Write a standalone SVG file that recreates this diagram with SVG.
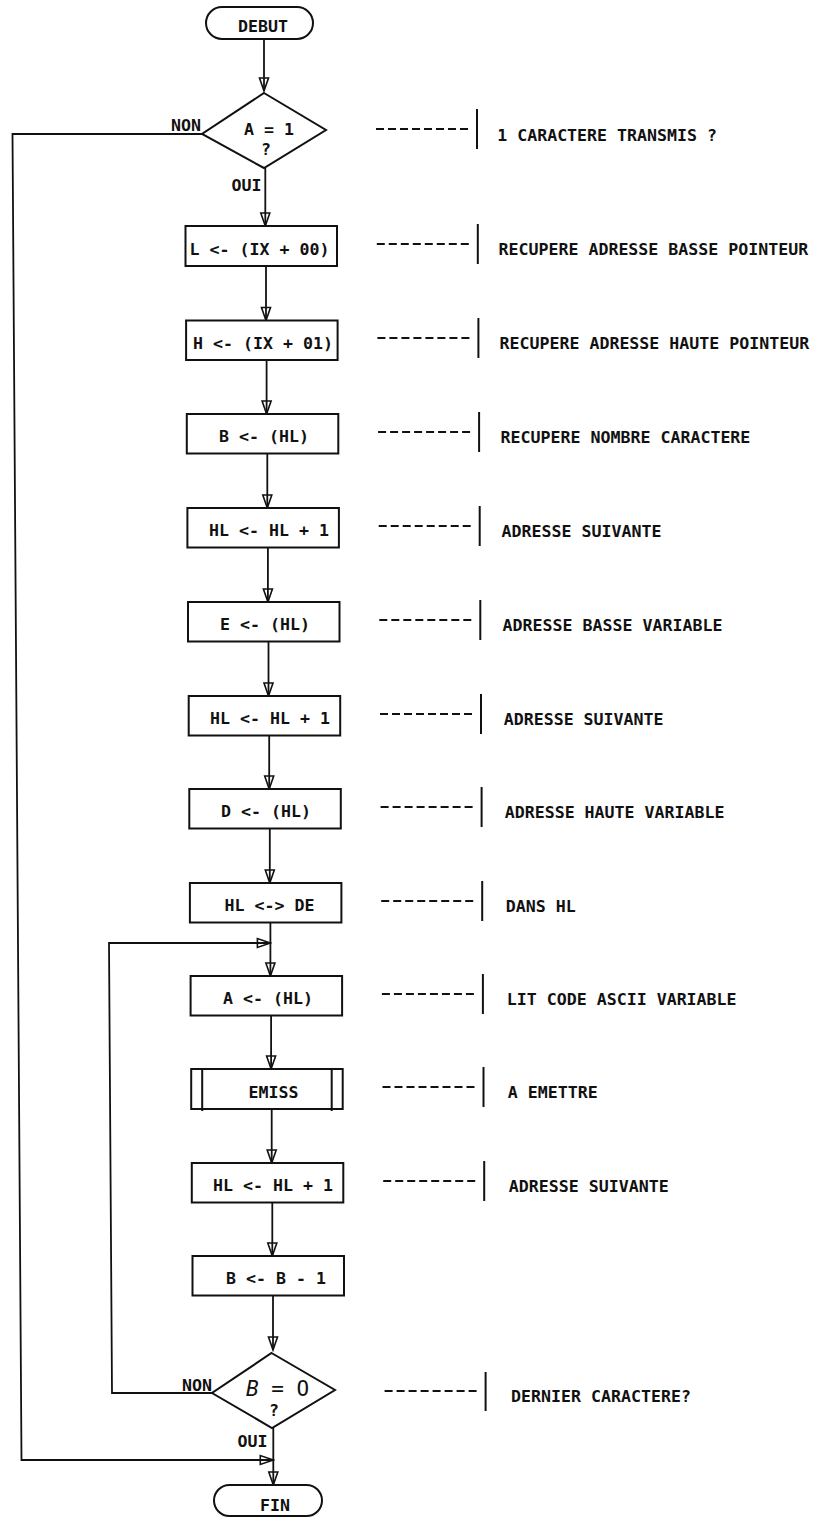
<svg xmlns="http://www.w3.org/2000/svg" width="820" height="1517" viewBox="0 0 820 1517">
<style>
.bg{fill:#fff}
.box{fill:#fff;stroke:#111;stroke-width:2}
.t{font-family:"DejaVu Sans Mono","Liberation Mono",monospace;font-size:16.6px;font-weight:bold;fill:#111}
.m{text-anchor:middle}
.e{text-anchor:end}
.c{fill:none;stroke:#111;stroke-width:1.8}
.dash{fill:none;stroke:#111;stroke-width:2;stroke-dasharray:8 4}
.bar{fill:none;stroke:#111;stroke-width:2}
</style>
<defs>
<marker id="ah" viewBox="-15 -7 17 14" refX="0" refY="0" markerWidth="17" markerHeight="14" markerUnits="userSpaceOnUse" orient="auto">
<path d="M0,0 L-13,-4.5 L-13,4.5 Z" fill="none" stroke="#111" stroke-width="1.6" stroke-linejoin="miter"/>
</marker>
</defs>
<rect class="bg" x="0" y="0" width="820" height="1517"/>

<g id="connectors">
<path class="c" d="M264,39 L264,91" marker-end="url(#ah)"/>
<path class="c" d="M265.3,168 L265.3,226" marker-end="url(#ah)"/>
<path class="c" d="M266,266 L266,320.5" marker-end="url(#ah)"/>
<path class="c" d="M266.6,360 L266.6,414" marker-end="url(#ah)"/>
<path class="c" d="M267.3,453.5 L267.3,508" marker-end="url(#ah)"/>
<path class="c" d="M267.9,547.5 L267.9,602" marker-end="url(#ah)"/>
<path class="c" d="M268.5,641.5 L268.5,696" marker-end="url(#ah)"/>
<path class="c" d="M269.2,735.5 L269.2,789" marker-end="url(#ah)"/>
<path class="c" d="M269.8,828.5 L269.8,883" marker-end="url(#ah)"/>
<path class="c" d="M270.4,922.5 L270.4,976" marker-end="url(#ah)"/>
<path class="c" d="M271.1,1015.5 L271.1,1069" marker-end="url(#ah)"/>
<path class="c" d="M271.7,1109 L271.7,1163" marker-end="url(#ah)"/>
<path class="c" d="M272.3,1202.5 L272.3,1256" marker-end="url(#ah)"/>
<path class="c" d="M273,1295.5 L273,1350" marker-end="url(#ah)"/>
<path class="c" d="M273.3,1428 L273.3,1485" marker-end="url(#ah)"/>
<path class="c" d="M202,134 L12.5,134 L21.5,1460 L273.3,1460" marker-end="url(#ah)"/>
<path class="c" d="M212,1393 L112,1393 L109,943 L270.4,943" marker-end="url(#ah)"/>
</g>

<g id="debut">
<rect class="box" x="206" y="7" width="107" height="32" rx="16"/>
<text class="t m" x="263" y="32">DEBUT</text>
</g>

<g id="test-a">
<polygon class="box" points="264,93 326,130 264,168 202,134"/>
<text class="t m" x="269" y="135">A = 1</text>
<text class="t m" x="266" y="155">?</text>
<text class="t e" x="201" y="131">NON</text>
<text class="t e" x="261.5" y="191">OUI</text>
</g>

<g id="n-l"><rect class="box" x="185.5" y="226" width="151.5" height="40"/><text class="t m" x="259.5" y="254.5">L &lt;- (IX + 00)</text></g>
<g id="n-h"><rect class="box" x="186.1" y="320.5" width="151.5" height="39.5"/><text class="t m" x="263" y="348.75">H &lt;- (IX + 01)</text></g>
<g id="n-b"><rect class="box" x="186.8" y="414" width="151.5" height="39.5"/><text class="t m" x="264" y="442.25">B &lt;- (HL)</text></g>
<g id="n-hl1"><rect class="box" x="187.4" y="508" width="151.5" height="39.5"/><text class="t m" x="269" y="536.25">HL &lt;- HL + 1</text></g>
<g id="n-e"><rect class="box" x="188" y="602" width="151.5" height="39.5"/><text class="t m" x="265" y="630.25">E &lt;- (HL)</text></g>
<g id="n-hl2"><rect class="box" x="188.7" y="696" width="151.5" height="39.5"/><text class="t m" x="270" y="724.25">HL &lt;- HL + 1</text></g>
<g id="n-d"><rect class="box" x="189.3" y="789" width="151.5" height="39.5"/><text class="t m" x="266" y="817.25">D &lt;- (HL)</text></g>
<g id="n-hlde"><rect class="box" x="189.9" y="883" width="151.5" height="39.5"/><text class="t m" x="269.5" y="911.25">HL &lt;-&gt; DE</text></g>
<g id="n-a"><rect class="box" x="190.6" y="976" width="151.5" height="39.5"/><text class="t m" x="268" y="1004.25">A &lt;- (HL)</text></g>
<g id="n-emiss">
<rect class="box" x="191.2" y="1069" width="151.5" height="40"/>
<path class="bar" d="M202.2,1069 L202.2,1111 M331.7,1069 L331.7,1111"/>
<text class="t m" x="273.5" y="1097.5">EMISS</text>
</g>
<g id="n-hl3"><rect class="box" x="191.8" y="1163" width="151.5" height="39.5"/><text class="t m" x="273" y="1191.25">HL &lt;- HL + 1</text></g>
<g id="n-bdec"><rect class="box" x="192.5" y="1256" width="151.5" height="39.5"/><text class="t m" x="276" y="1284.25">B &lt;- B - 1</text></g>

<g id="test-b">
<polygon class="box" points="271.5,1353 335,1390 272,1428 212,1393"/>
<text class="t m" x="277.5" y="1396" style="font-size:21px;font-weight:normal"><tspan font-style="italic">B</tspan> = O</text>
<text class="t m" x="274" y="1416">?</text>
<text class="t e" x="212" y="1391">NON</text>
<text class="t e" x="267.5" y="1447">OUI</text>
</g>

<g id="fin">
<rect class="box" x="214" y="1485" width="108" height="31" rx="15.5"/>
<text class="t m" x="275" y="1510.5">FIN</text>
</g>

<g id="comments">
<g><path class="dash" d="M376,129 L468,129"/><path class="bar" d="M477,109 L477,149"/><text class="t" x="497.2" y="141">1 CARACTERE TRANSMIS ?</text></g>
<g><path class="dash" d="M376.8,244 L468.8,244"/><path class="bar" d="M477.8,224 L477.8,264"/><text class="t" x="498.5" y="255">RECUPERE ADRESSE BASSE POINTEUR</text></g>
<g><path class="dash" d="M377.4,338 L469.4,338"/><path class="bar" d="M478.4,318 L478.4,358"/><text class="t" x="499.5" y="349">RECUPERE ADRESSE HAUTE POINTEUR</text></g>
<g><path class="dash" d="M378.1,432 L470.1,432"/><path class="bar" d="M479.1,412 L479.1,452"/><text class="t" x="500.6" y="443">RECUPERE NOMBRE CARACTERE</text></g>
<g><path class="dash" d="M378.7,526 L470.7,526"/><path class="bar" d="M479.7,506 L479.7,546"/><text class="t" x="501.6" y="537">ADRESSE SUIVANTE</text></g>
<g><path class="dash" d="M379.3,620 L471.3,620"/><path class="bar" d="M480.3,600 L480.3,640"/><text class="t" x="502.6" y="631">ADRESSE BASSE VARIABLE</text></g>
<g><path class="dash" d="M380,714 L472,714"/><path class="bar" d="M481,694 L481,734"/><text class="t" x="503.7" y="725">ADRESSE SUIVANTE</text></g>
<g><path class="dash" d="M380.6,807 L472.6,807"/><path class="bar" d="M481.6,787 L481.6,827"/><text class="t" x="504.7" y="818">ADRESSE HAUTE VARIABLE</text></g>
<g><path class="dash" d="M381.2,901 L473.2,901"/><path class="bar" d="M482.2,881 L482.2,921"/><text class="t" x="505.7" y="912">DANS HL</text></g>
<g><path class="dash" d="M381.9,994 L473.9,994"/><path class="bar" d="M482.9,974 L482.9,1014"/><text class="t" x="506.8" y="1005">LIT CODE ASCII VARIABLE</text></g>
<g><path class="dash" d="M382.5,1087 L474.5,1087"/><path class="bar" d="M483.5,1067 L483.5,1107"/><text class="t" x="507.8" y="1098">A EMETTRE</text></g>
<g><path class="dash" d="M383.2,1181 L475.2,1181"/><path class="bar" d="M484.2,1161 L484.2,1201"/><text class="t" x="508.8" y="1192">ADRESSE SUIVANTE</text></g>
<g><path class="dash" d="M384.6,1391 L476.6,1391"/><path class="bar" d="M485.6,1372 L485.6,1411"/><text class="t" x="511.1" y="1402">DERNIER CARACTERE?</text></g>
</g>
</svg>
